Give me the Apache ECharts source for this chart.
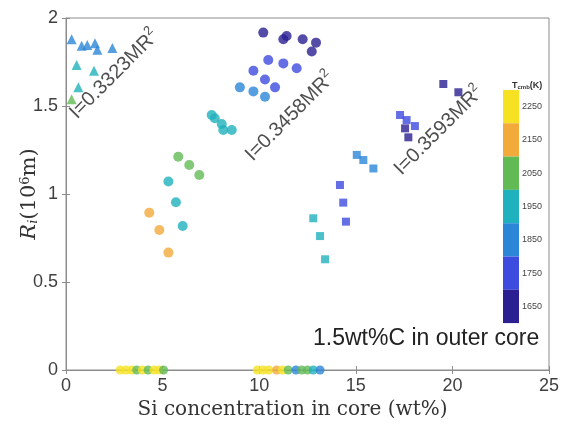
<!DOCTYPE html>
<html>
<head>
<meta charset="utf-8">
<script src="https://cdn.jsdelivr.net/npm/echarts@6/dist/echarts.min.js"></script>
<style>
  html, body { margin: 0; padding: 0; background: #fff; }
  #chart { width: 567px; height: 427px; }
</style>
</head>
<body>
<div id="chart"></div>
<script>
// I = 0.3323 MR^2 models (triangles)
const triSi = [0.29, 0.81, 1.10, 1.50, 1.62, 2.40, 0.55, 1.45, 0.64, 0.29];
const triR  = [1.879, 1.843, 1.846, 1.856, 1.82, 1.83, 1.733, 1.70, 1.606, 1.538];
const triT  = [1850, 1850, 1850, 1850, 1850, 1850, 1950, 1950, 1950, 2050];

// I = 0.3458 MR^2 models (circles)
const cirSi = [10.21, 11.42, 11.25, 12.25, 12.94, 12.72, 10.47, 11.25, 11.94, 9.70, 10.30, 10.82,
               9.00, 9.70, 10.30, 7.54, 7.70, 8.06, 8.14, 8.58, 5.81, 6.38, 6.90, 5.30, 5.69, 6.04,
               4.31, 4.83, 5.30];
const cirR  = [1.917, 1.898, 1.879, 1.879, 1.86, 1.81, 1.761, 1.742, 1.714, 1.70, 1.651, 1.606,
               1.606, 1.583, 1.553, 1.449, 1.43, 1.398, 1.364, 1.364, 1.212, 1.165, 1.108, 1.071, 0.953, 0.818,
               0.894, 0.795, 0.667];
const cirT  = [1650, 1650, 1650, 1650, 1650, 1650, 1750, 1750, 1750, 1750, 1750, 1750,
               1850, 1850, 1850, 1950, 1950, 1950, 1950, 1950, 2050, 2050, 2050, 1950, 1950, 1950,
               2150, 2150, 2150];

// I = 0.3593 MR^2 models (squares)
const sqSi = [19.53, 20.31, 17.29, 17.63, 18.06, 17.55, 17.72, 15.05, 15.39, 15.91, 14.18, 14.35, 14.49, 12.80, 13.15, 13.41];
const sqR  = [1.625, 1.578, 1.449, 1.42, 1.386, 1.373, 1.322, 1.222, 1.193, 1.145, 1.051, 0.951, 0.843, 0.862, 0.761, 0.629];
const sqT  = [1650, 1650, 1750, 1750, 1750, 1650, 1650, 1850, 1850, 1850, 1750, 1750, 1750, 1950, 1950, 1950];

// models without an inner core (R_i = 0)
const zeroSi = [2.8, 3.1, 3.4, 3.66, 3.95, 4.25, 4.55, 4.8, 5.05,
                9.9, 10.2, 10.5, 10.9, 11.2, 11.5, 11.9, 12.2, 12.5, 12.8, 13.15];
const zeroT  = [2250, 2250, 2250, 2050, 2250, 2050, 2250, 2250, 2050,
                2250, 2250, 2250, 2150, 2250, 2050, 1850, 2050, 2050, 1950, 1850];

// colour bins of T_cmb (K)
const binLabels = ['2250', '2150', '2050', '1950', '1850', '1750', '1650'];
const binMin    = [2200, 2100, 2000, 1900, 1800, 1700, 1600];
const binColors = ['#f6e223', '#f2aa3b', '#62ba55', '#1fb1bd', '#2b86d8', '#3d4bde', '#2b1f92'];

// moment-of-inertia labels, anchored in data coordinates
const noteText = ['0.3323', '0.3458', '0.3593'];
const noteSi   = [2.5, 11.6, 19.3];
const noteR    = [1.68, 1.44, 1.36];

const xTicks = [0, 5, 10, 15, 20, 25];
const yTicks = [0, 0.5, 1, 1.5, 2];

function pts(xs, ys, ts) { return xs.map((x, i) => [x, ys[i], ts[i]]); }

const tickFont = { fontFamily: 'Liberation Sans', fontSize: 18, color: '#3f3f3f' };
const lineCol = '#8c8c8c';

const chart = echarts.init(document.getElementById('chart'));
chart.setOption({
  backgroundColor: '#fff',
  animation: false,
  grid: {
    left: 66, right: 18, top: 18, bottom: 57,
    outerBoundsMode: 'none',
    show: true, borderColor: lineCol, borderWidth: 1
  },
  title: {
    text: '{a|T}{b|cmb}{a|(K)}',
    left: 507, top: 76,
    textStyle: {
      rich: {
        a: { fontFamily: 'Liberation Sans', fontSize: 9, color: '#333' },
        b: { fontFamily: 'Liberation Sans', fontSize: 6, color: '#333', verticalAlign: 'bottom' }
      }
    }
  },
  xAxis: [{
    type: 'value', min: 0, max: 25, interval: 5,
    name: 'Si concentration in core (wt%)',
    nameLocation: 'middle', nameGap: 30, nameMoveOverlap: false,
    nameTextStyle: { fontFamily: 'DejaVu Serif', fontSize: 20, color: '#333', padding: [0, 30, 0, 0] },
    axisLine: { lineStyle: { color: lineCol } },
    axisTick: { inside: true, length: 4, lineStyle: { color: lineCol } },
    axisLabel: Object.assign({ margin: 7, formatter: v => xTicks.includes(v) ? String(v) : '' }, tickFont),
    splitLine: { show: false }
  }, {
    type: 'value', min: 0, max: 25, interval: 5, position: 'top',
    axisLine: { show: false },
    axisTick: { inside: true, length: 4, lineStyle: { color: lineCol } },
    axisLabel: { show: false }, splitLine: { show: false }
  }],
  yAxis: [{
    type: 'value', min: 0, max: 2, interval: 0.5,
    name: '{r|R}{s|i}{n|(10}{p|6}{n|m)}',
    nameLocation: 'middle', nameGap: 26, nameMoveOverlap: false,
    nameTextStyle: {
      rich: {
        r: { fontFamily: 'DejaVu Serif', fontStyle: 'italic', fontSize: 21, color: '#333' },
        s: { fontFamily: 'DejaVu Serif', fontStyle: 'italic', fontSize: 13, color: '#333', verticalAlign: 'bottom' },
        n: { fontFamily: 'DejaVu Serif', fontSize: 21, color: '#333' },
        p: { fontFamily: 'DejaVu Serif', fontSize: 13, color: '#333', verticalAlign: 'top' }
      }
    },
    axisLine: { lineStyle: { color: lineCol } },
    axisTick: { inside: true, length: 4, lineStyle: { color: lineCol } },
    axisLabel: Object.assign({ margin: 8, formatter: v => yTicks.includes(v) ? String(v) : '' }, tickFont),
    splitLine: { show: false }
  }, {
    type: 'value', min: 0, max: 2, interval: 0.5, position: 'right',
    axisLine: { show: false },
    axisTick: { inside: true, length: 4, lineStyle: { color: lineCol } },
    axisLabel: { show: false }, splitLine: { show: false }
  }],
  visualMap: {
    type: 'piecewise',
    seriesIndex: [0, 1, 2, 3],
    dimension: 2,
    orient: 'vertical',
    align: 'left',
    left: 488, top: 75,
    itemWidth: 16, itemHeight: 33.3, itemGap: 0,
    itemSymbol: 'rect',
    showLabel: true,
    textGap: 3,
    textStyle: { fontFamily: 'Liberation Sans', fontSize: 9, color: '#444' },
    selectedMode: false,
    hoverLink: false,
    pieces: binMin.map((m, i) => ({ min: m, max: m + 100, label: binLabels[i], color: binColors[i] }))
  },
  series: [{
    type: 'scatter', symbol: 'triangle', symbolSize: 10,
    data: pts(triSi, triR, triT), clip: false
  }, {
    type: 'scatter', symbol: 'circle', symbolSize: 10,
    data: pts(cirSi, cirR, cirT)
  }, {
    type: 'scatter', symbol: 'rect', symbolSize: 8,
    data: pts(sqSi, sqR, sqT)
  }, {
    type: 'scatter', symbol: 'circle', symbolSize: 9,
    data: zeroSi.map((x, i) => [x, 0, zeroT[i]]), clip: false
  }, {
    type: 'scatter', symbolSize: 0, silent: true,
    data: noteSi.map((x, i) => [x, noteR[i]]),
    label: {
      show: true, position: 'inside', rotate: 45,
      formatter: p => '{t|I=' + noteText[p.dataIndex] + 'MR}{u|2}',
      rich: {
        t: { fontFamily: 'Liberation Sans', fontSize: 20, color: '#222', lineHeight: 26 },
        u: { fontFamily: 'Liberation Sans', fontSize: 13, color: '#222', verticalAlign: 'top' }
      }
    }
  }],
  graphic: [{
    type: 'text',
    left: 313, top: 327,
    style: { text: '1.5wt%C in outer core', fontFamily: 'Liberation Sans', fontSize: 23, fill: '#222' }
  }]
});
</script>
</body>
</html>
